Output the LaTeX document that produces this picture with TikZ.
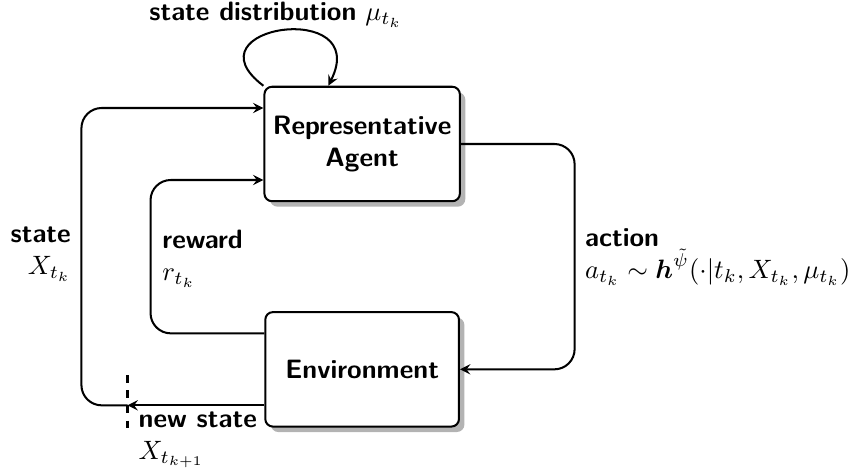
\documentclass[tikz,border=0pt]{standalone}
\usepackage{fix-cm}
\usepackage{amsmath}
\usetikzlibrary{shadows,arrows}
\begin{document}
\begin{tikzpicture}[>=stealth,
  box/.style={draw, thick, rounded corners=3pt, fill=white, drop shadow={opacity=0.6}, minimum width=2.69cm, minimum height=1.59cm, align=center, font=\fontsize{10.5}{12.6}\selectfont\sffamily\bfseries},
  lbl/.style={inner sep=0pt, font=\fontsize{10.5}{12.6}\selectfont\sffamily}]
\useasboundingbox (0,0) rectangle (11.82,6.6);
\node[box] (agent) at (5.03,4.60) {Representative\\Agent};
\node[box] (env) at (5.03,1.47) {Environment};
\coordinate (new) at ([xshift=-1.90cm, yshift=-0.5cm]env.west);
\node[lbl] (dist) at (3.83,6.40) {\textbf{state distribution} $\mu_{t_k}$};
\node[lbl, anchor=east, align=right] (state) at (0.99,3.07) {\textbf{state}\\$X_{t_k}$};
\node[lbl, anchor=west, align=left] (reward) at (2.25,3.01) {\textbf{reward}\\$r_{t_k}$};
\node[lbl, anchor=west, align=left] (action) at (8.12,3.03) {\textbf{action}\\$a_{t_k} \sim \boldsymbol{h}^{\tilde{\psi}}(\cdot|t_k, X_{t_k}, \mu_{t_k})$};
\node[lbl, anchor=west, align=left] (newstate) at (1.92,0.49) {\textbf{new state}\\$X_{t_{k+1}}$};
\path[draw,thick,->] (agent.north west) .. controls +(-1.1,0.83) and +(0.6,1.21) .. ([xshift=-0.47cm]agent.north);
\path[draw,thick,->,rounded corners=8pt] (agent.east) -- ++(1.58,0) |- (env.east);
\path[draw,thick,->,rounded corners=8pt] ([yshift=0.5cm]env.west) -- ++(-1.58,0) |- ([yshift=-0.5cm]agent.west);
\path[draw,thick,->] ([yshift=-0.5cm]env.west) -- (new);
\path[draw,thick,->,rounded corners=8pt] (new) -- ++(-0.64,0) |- ([yshift=0.5cm]agent.west);
\path[draw,thick,dashed] ([yshift=0.42cm]new) -- ([yshift=-0.35cm]new);
\end{tikzpicture}
\end{document}
